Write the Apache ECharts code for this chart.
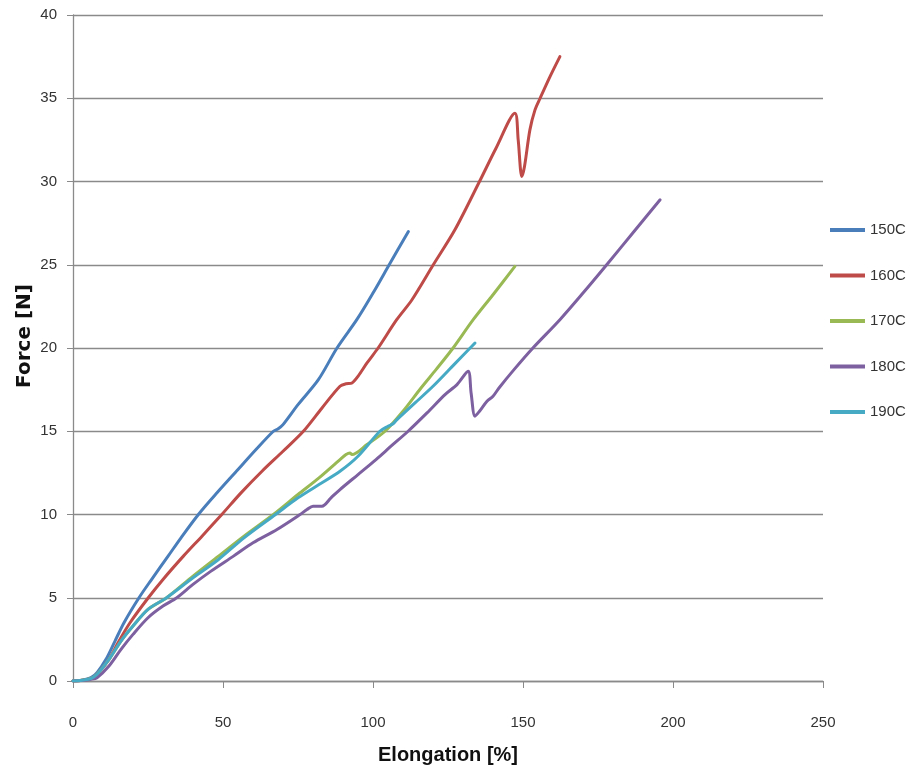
<!DOCTYPE html>
<html>
<head>
<meta charset="utf-8">
<script src="https://cdn.jsdelivr.net/npm/echarts@6/dist/echarts.min.js"></script>
<style>
html,body{margin:0;padding:0;background:#fff;}
#chart{width:910px;height:779px;}
</style>
</head>
<body>
<div id="chart"></div>
<script>
const seriesNames = ['150C', '160C', '170C', '180C', '190C'];
const xTicks = [0, 50, 100, 150, 200, 250];
const yTicks = [0, 5, 10, 15, 20, 25, 30, 35, 40];

const s150 = [[0,0],[3,0.05],[6,0.2],[8,0.5],[11,1.3],[14,2.4],[17,3.5],[22,5],[26,6.05],[31.7,7.5],[36,8.6],[41.8,10],[48,11.3],[55,12.7],[61,13.9],[66.8,15],[68.4,15.15],[70,15.4],[75,16.6],[81.8,18.1],[88,20],[94.6,21.7],[100,23.3],[105.4,25],[111.8,27.0]];
const s160 = [[0,0],[3,0.05],[6,0.15],[8,0.4],[12,1.3],[15,2.3],[19,3.5],[25.1,5],[30,6.1],[36.8,7.5],[43,8.7],[49.6,10],[56,11.3],[63,12.6],[70,13.8],[76.8,15],[83,16.4],[89,17.7],[91,17.85],[93,17.9],[95,18.3],[98,19.1],[101.7,20],[107.9,21.7],[113,22.9],[120.1,25],[127.3,27.1],[135.5,30],[141,32],[147.3,34.1],[148.4,32.5],[149.6,30.3],[150.5,30.9],[152.3,33.1],[154,34.3],[155.7,35],[159,36.3],[162.3,37.5]];
const s170 = [[0,0],[3,0.05],[6,0.15],[8,0.4],[12,1.3],[16,2.4],[20,3.3],[25,4.3],[31.2,5],[40,6.3],[48.5,7.5],[57,8.7],[66.8,10],[75,11.2],[82,12.2],[89,13.3],[91,13.6],[92.3,13.7],[93,13.6],[98,14.2],[104,15],[110,16.2],[116,17.6],[121,18.7],[126.7,20],[133.4,21.7],[140,23.2],[147.3,24.9]];
const s180 = [[0,0],[3,0.03],[6,0.1],[8,0.2],[12,0.9],[16,1.9],[20,2.8],[25,3.8],[30,4.5],[34.6,5],[40,5.8],[46,6.6],[53.5,7.5],[60,8.3],[68,9.1],[75.7,10],[78,10.3],[80,10.5],[83,10.5],[86,11],[89,11.5],[95,12.4],[101,13.3],[106,14.1],[111.7,15],[118,16.1],[124,17.2],[128,17.8],[131.7,18.6],[132.7,17.3],[134,15.9],[135.5,16.2],[138,16.8],[140,17.1],[142,17.6],[147,18.7],[153.3,20],[162.3,21.7],[170,23.3],[177.9,25],[187,27],[195.7,28.9]];
const s190 = [[0,0],[3,0.05],[6,0.15],[8,0.4],[12,1.3],[16,2.4],[20,3.3],[25,4.3],[31.2,5],[40,6.2],[48.5,7.3],[57,8.6],[67.5,10],[75,11],[82,11.8],[89,12.6],[95,13.5],[102.3,15],[105,15.3],[106.7,15.45],[108,15.7],[114,16.7],[120,17.7],[127,19],[134,20.3]];

const seriesData = [s150, s160, s170, s180, s190];
const colors = ['#4A7EBB', '#BE4B48', '#98B954', '#7D60A0', '#46AAC5'];

const sans = "'Liberation Sans', Arial, sans-serif";

const chart = echarts.init(document.getElementById('chart'), null, {renderer: 'canvas'});
chart.setOption({
  animation: false,
  backgroundColor: '#ffffff',
  color: colors,
  grid: {left: 73, right: 87, top: 15, bottom: 98, containLabel: false},
  legend: {
    orient: 'vertical',
    left: 825,
    top: 215,
    itemWidth: 35,
    itemHeight: 4,
    itemGap: 25.5,
    icon: 'rect',
    data: seriesNames,
    textStyle: {fontFamily: sans, fontSize: 15, color: '#333', lineHeight: 20}
  },
  xAxis: {
    type: 'value',
    min: xTicks[0],
    max: xTicks[xTicks.length - 1],
    interval: 50,
    name: 'Elongation [%]',
    nameLocation: 'middle',
    nameGap: 64,
    nameMoveOverlap: false,
    nameTextStyle: {fontFamily: sans, fontWeight: 'bold', fontSize: 20, color: '#111'},
    axisLine: {show: true, lineStyle: {color: '#8a8a8a', width: 1.3}},
    axisTick: {show: true, length: 7, lineStyle: {color: '#8a8a8a'}},
    axisLabel: {margin: 34, fontFamily: sans, fontSize: 15, color: '#333'},
    splitLine: {show: false}
  },
  yAxis: {
    type: 'value',
    min: yTicks[0],
    max: yTicks[yTicks.length - 1],
    interval: 5,
    name: 'Force [N]',
    nameLocation: 'middle',
    nameGap: 38.5,
    nameRotate: 90,
    nameMoveOverlap: false,
    nameTextStyle: {fontFamily: "'DejaVu Sans', sans-serif", fontWeight: 'bold', fontSize: 20, color: '#111', padding: [0, 0, 0, 24]},
    axisLine: {show: true, lineStyle: {color: '#8a8a8a', width: 1.3}},
    axisTick: {show: true, length: 6, lineStyle: {color: '#8a8a8a'}},
    axisLabel: {margin: 16, fontFamily: sans, fontSize: 15, color: '#333'},
    splitLine: {show: true, lineStyle: {color: '#8a8a8a', width: 1.3}}
  },
  series: seriesNames.map((n, i) => ({
    name: n,
    type: 'line',
    data: seriesData[i],
    showSymbol: false,
    symbol: 'none',
    smooth: 0.3,
    lineStyle: {width: 3, color: colors[i], join: 'round', cap: 'round'},
    itemStyle: {color: colors[i]}
  }))
});
</script>
</body>
</html>
